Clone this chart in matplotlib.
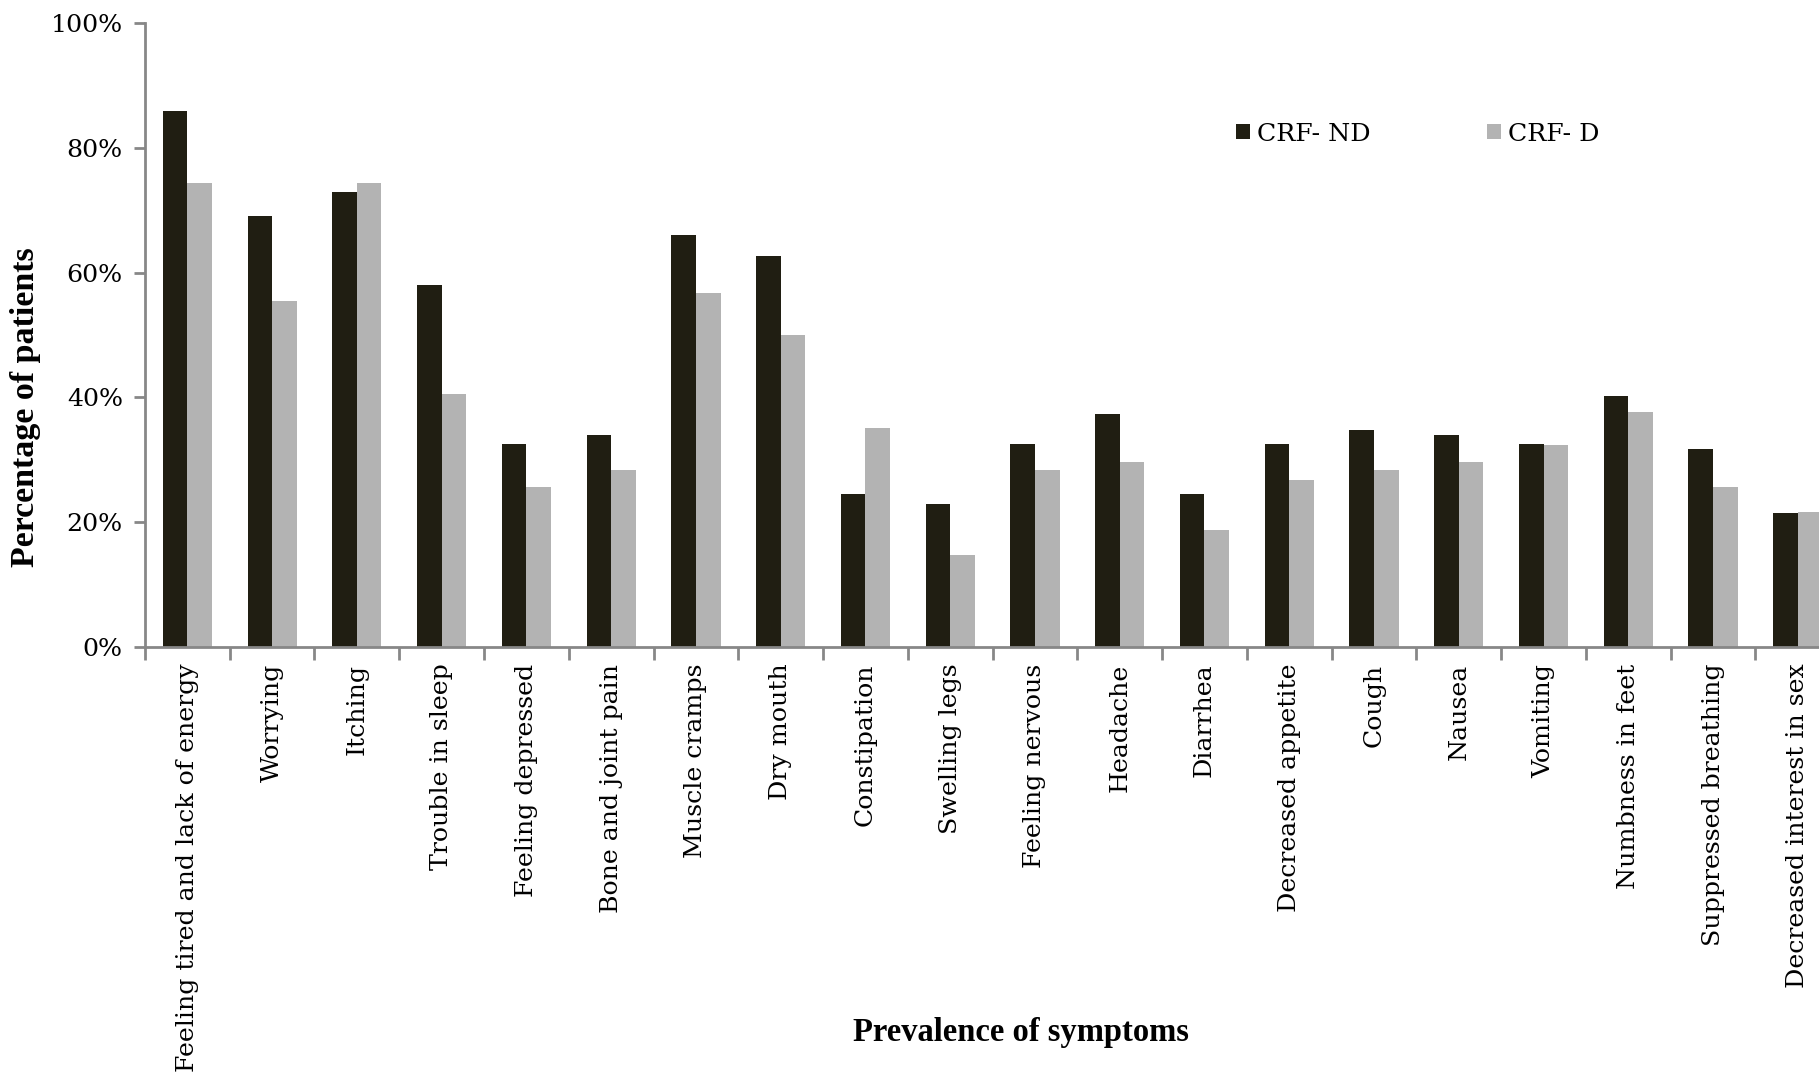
import numpy as np
import matplotlib
matplotlib.use("Agg")
import matplotlib.pyplot as plt
from matplotlib.ticker import FixedLocator, PercentFormatter

symptoms = [
    "Feeling tired and lack of energy", "Worrying", "Itching", "Trouble in sleep",
    "Feeling depressed", "Bone and joint pain", "Muscle cramps", "Dry mouth",
    "Constipation", "Swelling legs", "Feeling nervous", "Headache", "Diarrhea",
    "Decreased appetite", "Cough", "Nausea", "Vomiting", "Numbness in feet",
    "Suppressed breathing", "Decreased interest in sex",
]
crf_nd = [85.9, 69.1, 73.0, 58.0, 32.5, 34.0, 66.0, 62.6, 24.5, 22.9,
          32.5, 37.4, 24.5, 32.5, 34.8, 34.0, 32.5, 40.3, 31.8, 21.4]
crf_d = [74.3, 55.4, 74.3, 40.5, 25.7, 28.3, 56.7, 50.0, 35.1, 14.7,
         28.3, 29.7, 18.8, 26.8, 28.3, 29.7, 32.4, 37.7, 25.7, 21.6]
series_names = ["CRF- ND", "CRF- D"]
yticks = [0, 20, 40, 60, 80, 100]

dark = "#201e12"
light = "#b3b3b3"
axis_grey = "#878787"
fs = 18.2

fig = plt.figure(figsize=(18.19, 10.73), dpi=100)
ax = fig.add_axes([0.0797, 0.397, 0.9203, 0.5815])

x = np.arange(len(symptoms))
w = 0.29
ax.bar(x - w / 2, crf_nd, w, color=dark, label=series_names[0])
ax.bar(x + w / 2, crf_d, w, color=light, label=series_names[1])

ax.set_xlim(-0.5, 19.25)
ax.set_ylim(0, 100)

for side in ["top", "right"]:
    ax.spines[side].set_visible(False)
for side in ["left", "bottom"]:
    ax.spines[side].set_color(axis_grey)
    ax.spines[side].set_linewidth(2)

# category labels at centres, tick marks between categories
ax.set_xticks(x)
ax.set_xticklabels(symptoms, rotation=90, va="top", ha="center",
                   family="DejaVu Serif", fontsize=fs)
ax.tick_params(axis="x", which="major", length=0, pad=12)
ax.xaxis.set_minor_locator(FixedLocator(np.arange(-0.5, 20, 1.0)))
ax.tick_params(axis="x", which="minor", length=9, width=2, color=axis_grey,
               direction="out")

ax.set_yticks(yticks)
ax.yaxis.set_major_formatter(PercentFormatter(decimals=0))
ax.tick_params(axis="y", length=8, width=2, color=axis_grey, pad=8,
               labelsize=fs)
for lab in ax.get_yticklabels():
    lab.set_family("DejaVu Serif")

fig.text(0.014, 0.621, "Percentage of patients", rotation=90,
         ha="center", va="center", family="Liberation Serif",
         fontweight="bold", fontsize=24.5)
fig.text(0.561, 0.038, "Prevalence of symptoms", ha="center", va="center",
         family="Liberation Serif", fontweight="bold", fontsize=23.5)

leg = ax.legend(loc="center left", bbox_to_anchor=(0.667, 0.875),
                bbox_transform=fig.transFigure, ncol=2, frameon=False,
                handlelength=0.55, handleheight=0.55, handletextpad=0.28,
                columnspacing=4.6, prop={"family": "DejaVu Serif", "size": fs})

fig.savefig("out.png", dpi=100)
